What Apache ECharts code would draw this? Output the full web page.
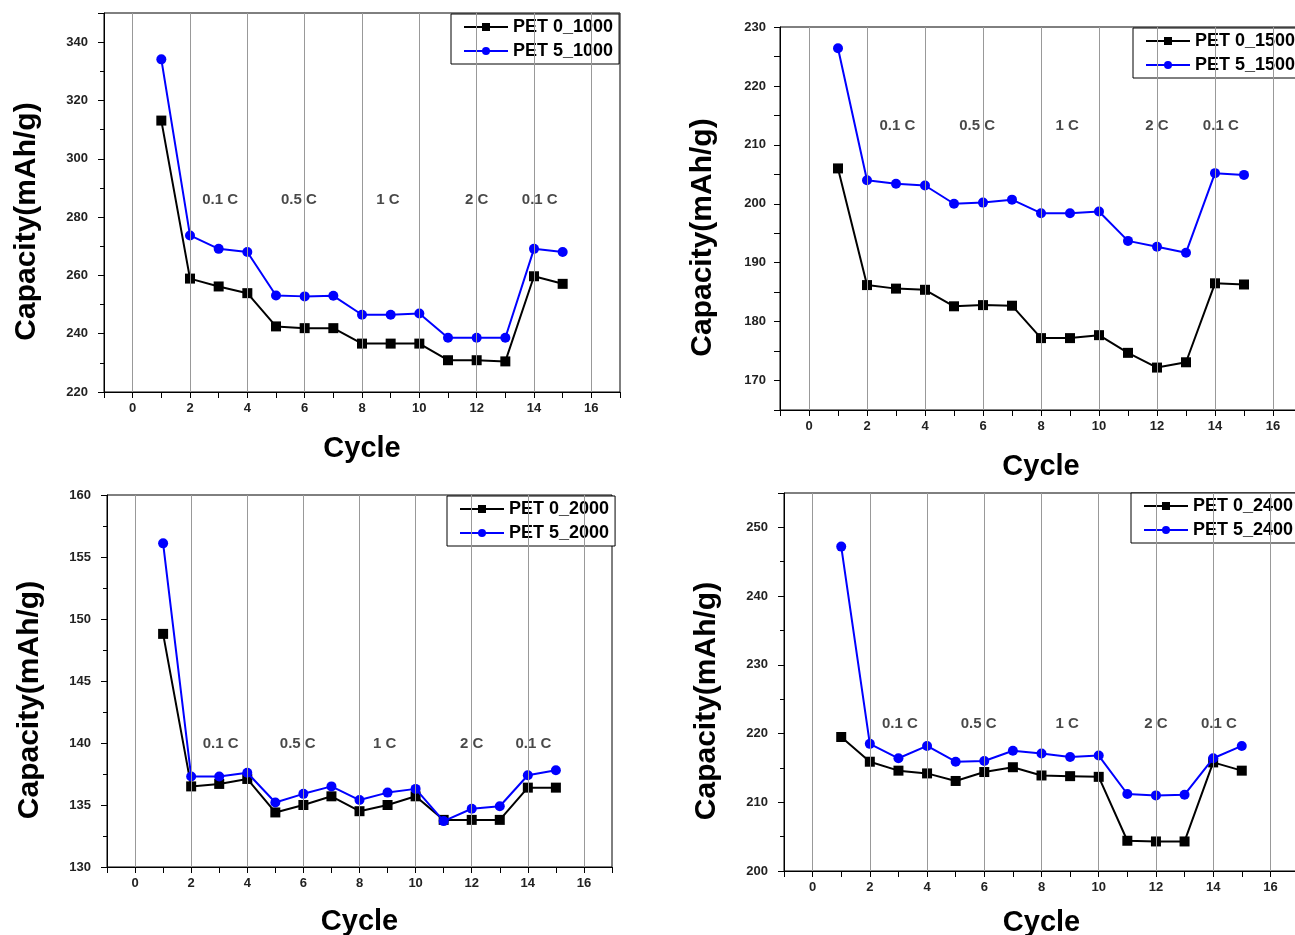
<!DOCTYPE html>
<html>
<head>
<meta charset="utf-8">
<script src="https://cdn.jsdelivr.net/npm/echarts@6/dist/echarts.min.js"></script>
<style>html,body{margin:0;padding:0;background:#fff;overflow:hidden}#c{width:1295px;height:935px}</style>
</head>
<body>
<div id="c"></div>
<script>
const cycles = [1, 2, 3, 4, 5, 6, 7, 8, 9, 10, 11, 12, 13, 14, 15];

const pet0_1000 = [313.1, 258.9, 256.2, 253.9, 242.5, 241.9, 241.9, 236.6, 236.6, 236.6, 230.9, 230.9, 230.5, 259.7, 257.1];
const pet5_1000 = [334.1, 273.7, 269.1, 268.0, 253.1, 252.8, 253.0, 246.5, 246.5, 246.9, 238.6, 238.6, 238.6, 269.1, 268.0];

const pet0_1500 = [206.0, 186.2, 185.6, 185.4, 182.6, 182.8, 182.7, 177.2, 177.2, 177.7, 174.7, 172.2, 173.1, 186.5, 186.3];
const pet5_1500 = [226.4, 204.0, 203.4, 203.1, 200.0, 200.2, 200.7, 198.4, 198.4, 198.7, 193.7, 192.7, 191.7, 205.2, 204.9];

const pet0_2000 = [148.8, 136.5, 136.7, 137.1, 134.4, 135.0, 135.7, 134.5, 135.0, 135.7, 133.8, 133.8, 133.8, 136.4, 136.4];
const pet5_2000 = [156.1, 137.3, 137.3, 137.6, 135.2, 135.9, 136.5, 135.4, 136.0, 136.3, 133.7, 134.7, 134.9, 137.4, 137.8];

const pet0_2400 = [219.5, 215.9, 214.6, 214.2, 213.1, 214.4, 215.1, 213.9, 213.8, 213.7, 204.4, 204.3, 204.3, 215.8, 214.6];
const pet5_2400 = [247.2, 218.5, 216.4, 218.2, 215.9, 216.0, 217.5, 217.1, 216.6, 216.8, 211.2, 211.0, 211.1, 216.4, 218.2];

const rateLabels = ['0.1 C', '0.5 C', '1 C', '2 C', '0.1 C'];
const rateLabelX = [3.05, 5.8, 8.9, 12, 14.2];
const rateLabelY = [286, 213.2, 139.9, 221.4];

const gridLinesX = [0, 2, 4, 6, 8, 10, 12, 14, 16];
const xMin = -1, xMax = 17;

const panels = [
  { names: ['PET 0_1000', 'PET 5_1000'], s0: pet0_1000, s5: pet5_1000, yMin: 220, yMax: 350, yInt: 20, labStep: 20, minor: true,
    grid: { left: 104, top: 13, width: 516, height: 379 }, legend: { left: 451, top: 14 }, labMargin: 16, xGap: 42 },
  { names: ['PET 0_1500', 'PET 5_1500'], s0: pet0_1500, s5: pet5_1500, yMin: 165, yMax: 230, yInt: 5, labStep: 10, minor: false,
    grid: { left: 780, top: 27, width: 522, height: 383 }, legend: { left: 1133, top: 28 }, labMargin: 14, xGap: 42 },
  { names: ['PET 0_2000', 'PET 5_2000'], s0: pet0_2000, s5: pet5_2000, yMin: 130, yMax: 160, yInt: 5, labStep: 5, minor: true,
    grid: { left: 107, top: 495, width: 505, height: 372 }, legend: { left: 447, top: 496 }, labMargin: 16, xGap: 40 },
  { names: ['PET 0_2400', 'PET 5_2400'], s0: pet0_2400, s5: pet5_2400, yMin: 200, yMax: 255, yInt: 10, labStep: 10, minor: true,
    grid: { left: 784, top: 493, width: 515, height: 378 }, legend: { left: 1131, top: 493 }, labMargin: 16, xGap: 37 }
];

const FONT = 'Liberation Sans, Arial, sans-serif';
const grids = [], xAxes = [], yAxes = [], series = [], legends = [];

panels.forEach((p, i) => {
  grids.push(Object.assign({ show: true, borderColor: '#000', borderWidth: 1, backgroundColor: 'transparent',
    outerBoundsMode: 'none', containLabel: false }, p.grid));
  xAxes.push({
    type: 'value', gridIndex: i, min: xMin, max: xMax, interval: 1,
    name: 'Cycle', nameLocation: 'middle', nameGap: p.xGap,
    nameTextStyle: { fontFamily: FONT, fontSize: 29, fontWeight: 'bold', color: '#000' },
    axisLine: { show: true, onZero: false, lineStyle: { color: '#000', width: 1 } },
    axisTick: { show: true, length: 6, lineStyle: { color: '#000' } },
    axisLabel: { margin: 10, fontFamily: FONT, fontSize: 13, fontWeight: 'bold', color: '#222',
      formatter: v => (v >= 0 && v % 2 === 0) ? String(v) : '' },
    splitLine: { show: false }
  });
  yAxes.push({
    type: 'value', gridIndex: i, min: p.yMin, max: p.yMax, interval: p.yInt,
    name: 'Capacity(mAh/g)', nameLocation: 'middle', nameGap: 62,
    nameTextStyle: { fontFamily: FONT, fontSize: 30, fontWeight: 'bold', color: '#000', padding: [0, 38, 0, 0] },
    axisLine: { show: true, onZero: false, lineStyle: { color: '#000', width: 1 } },
    axisTick: { show: true, length: 6, lineStyle: { color: '#000' } },
    minorTick: { show: p.minor, splitNumber: 2, length: 4, lineStyle: { color: '#000' } },
    axisLabel: { margin: p.labMargin, fontFamily: FONT, fontSize: 13, fontWeight: 'bold', color: '#222',
      formatter: v => (Math.abs(v % p.labStep) < 1e-6) ? String(v) : '' },
    splitLine: { show: false }
  });
  series.push({
    type: 'scatter', xAxisIndex: i, yAxisIndex: i, z: 1, symbolSize: 0, silent: true,
    data: rateLabels.map((t, k) => ({ value: [rateLabelX[k], rateLabelY[i]], name: t })),
    label: { show: true, position: 'inside', formatter: d => d.name, fontFamily: FONT, fontSize: 15, fontWeight: 'bold', color: '#1a1a1a' },
    markLine: { silent: true, symbol: ['none', 'none'], label: { show: false },
      lineStyle: { color: '#999', width: 1, type: 'solid' },
      data: gridLinesX.map(x => ({ xAxis: x })) }
  });
  series.push({
    type: 'line', name: p.names[0], xAxisIndex: i, yAxisIndex: i, z: 3,
    data: cycles.map((c, k) => [c, p.s0[k]]),
    symbol: 'rect', symbolSize: 10, showAllSymbol: true,
    itemStyle: { color: '#000' }, lineStyle: { color: '#000', width: 2 }
  });
  series.push({
    type: 'line', name: p.names[1], xAxisIndex: i, yAxisIndex: i, z: 4,
    data: cycles.map((c, k) => [c, p.s5[k]]),
    symbol: 'circle', symbolSize: 10, showAllSymbol: true,
    itemStyle: { color: '#0000ff' }, lineStyle: { color: '#0000ff', width: 2 }
  });
  legends.push(Object.assign({
    data: p.names, orient: 'vertical', itemGap: 6, itemWidth: 44, itemHeight: 10,
    padding: [4, 6, 4, 12], borderColor: '#000', borderWidth: 1, backgroundColor: '#fff',
    textStyle: { fontFamily: FONT, fontSize: 18, fontWeight: 'bold', color: '#000' }
  }, p.legend));
});

const chart = echarts.init(document.getElementById('c'), null, { renderer: 'canvas' });
chart.setOption({
  animation: false,
  backgroundColor: '#fff',
  grid: grids, xAxis: xAxes, yAxis: yAxes, legend: legends, series: series
});
</script>
</body>
</html>
